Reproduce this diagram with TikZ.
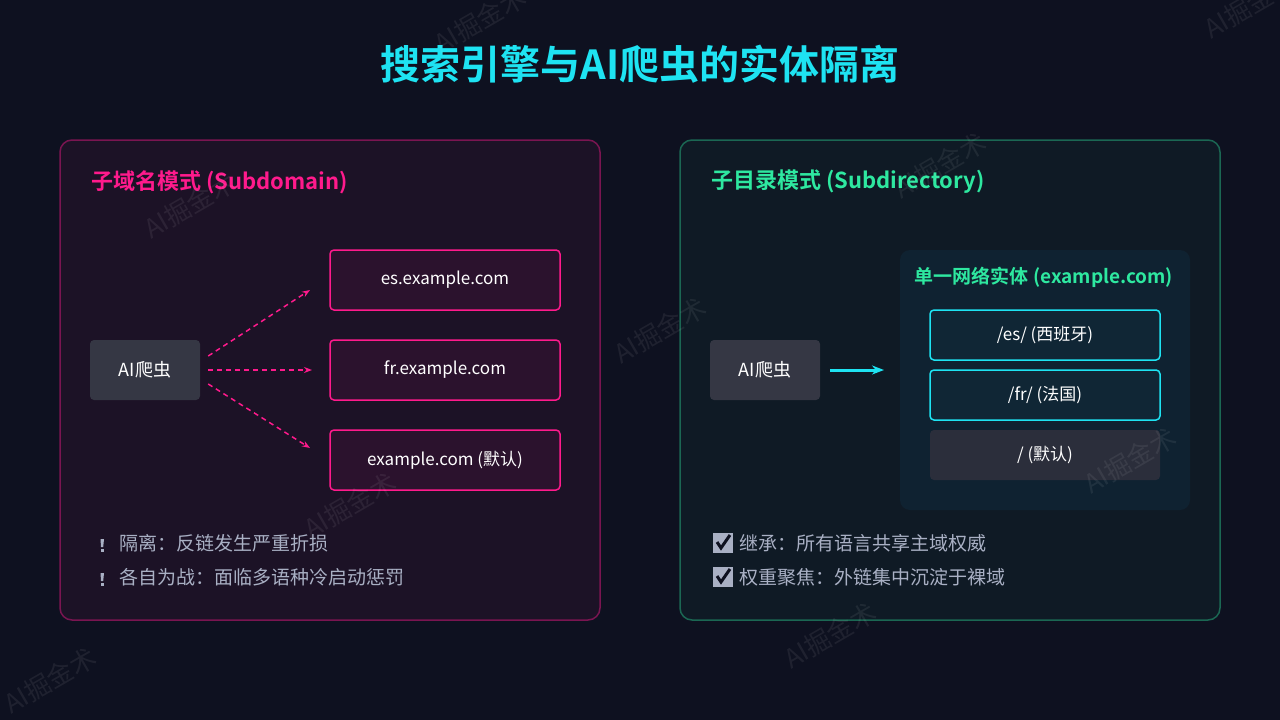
\documentclass[tikz,border=0pt]{standalone}
\usepackage{fontspec}
\setmainfont{Noto Sans CJK SC}
\newfontfamily\cjkb{Noto Sans CJK SC Bold}
\usetikzlibrary{arrows.meta}
\definecolor{bg}{HTML}{0E1120}
\definecolor{pinkc}{HTML}{FF1A8C}
\definecolor{greenc}{HTML}{2EE8A0}
\definecolor{cyanc}{HTML}{1EE3F2}
\definecolor{txt}{HTML}{A9B0C4}
\begin{document}
\begin{tikzpicture}[x=1pt,y=-1pt,
  box/.style={draw=pinkc,line width=1.5pt,rounded corners=4pt,fill=pinkc!12!bg,minimum width=230pt,minimum height=60pt,text=white,font=\fontsize{17}{20}\selectfont},
  rbox/.style={draw=cyanc,line width=1.5pt,rounded corners=4pt,fill=cyanc!10!bg,minimum width=230pt,minimum height=50pt,text=white,font=\fontsize{17}{20}\selectfont},
  crawler/.style={fill=white!16!bg,rounded corners=4pt,minimum width=110pt,minimum height=60pt,text=white,font=\fontsize{18}{20}\selectfont},
  item/.style={anchor=west,text=txt,font=\fontsize{19}{22}\selectfont},
  wm/.style={text=white,opacity=0.07,rotate=30,font=\fontsize{26}{28}\selectfont},
  warn/.pic={\fill[txt] (-1.5,-6) -- (2,-6) -- (1.2,2) -- (-1,2) -- cycle; \fill[txt] (-1,3.5) rectangle (1.5,6.5);},
  chk/.pic={\fill[txt] (-10,-10) rectangle (10,10); \draw[bg,line width=3pt] (-6,-1) -- (-2,5) -- (7,-8);},
  parr/.style={pinkc,line width=1.5pt,dashed,dash pattern=on 5pt off 4pt,-{Stealth[length=8pt]}}]
\fill[bg] (0,0) rectangle (1280,720);
\useasboundingbox (0,0) rectangle (1280,720);
\node[text=cyanc,font=\cjkb\fontsize{40}{44}\selectfont] (title) at (640,64) {搜索引擎与AI爬虫的实体隔离};
% left panel
\draw[draw=pinkc!45!bg,line width=1.5pt,fill=pinkc!6!bg,rounded corners=12pt] (60,140) rectangle (600,620);
\node[anchor=west,text=pinkc,font=\cjkb\fontsize{22}{26}\selectfont] (lt) at (88,182) {子域名模式 (Subdomain)};
\node[crawler] (c1) at (145,370) {AI爬虫};
\node[box] (es) at (445,280) {es.example.com};
\node[box] (fr) at (445,370) {fr.example.com};
\node[box] (df) at (445,460) {example.com (默认)};
\draw[parr] (c1.east) ++(8,-14) coordinate (s1) -- (310,290);
\draw[parr] (c1.east) ++(8,0) coordinate (s2) -- (312,370);
\draw[parr] (c1.east) ++(8,14) coordinate (s3) -- (310,448);
\pic at (102,545) {warn};
\pic at (102,579) {warn};
\node[item] (l1) at (116,543) {隔离：反链发生严重折损};
\node[item] (l2) at (116,577) {各自为战：面临多语种冷启动惩罚};
% right panel
\draw[draw=greenc!40!bg,line width=1.5pt,fill=greenc!4!bg,rounded corners=12pt] (680,140) rectangle (1220,620);
\node[anchor=west,text=greenc,font=\cjkb\fontsize{22}{26}\selectfont] (rt) at (708,182) {子目录模式 (Subdirectory)};
\fill[fill=cyanc!8!bg,rounded corners=10pt] (900,250) rectangle (1190,510);
\node[text=greenc,font=\cjkb\fontsize{19}{22}\selectfont] (ent) at (1044,277) {单一网络实体 (example.com)};
\node[crawler] (c2) at (765,370) {AI爬虫};
\node[rbox] (res) at (1045,335) {/es/ (西班牙)};
\node[rbox] (rfr) at (1045,395) {/fr/ (法国)};
\node[rbox,draw=none,fill=white!12!bg] (rdf) at (1045,455) {/ (默认)};
\coordinate (ae) at (884,370);
\draw[cyanc,line width=3pt,-{Stealth[length=12pt]}] (c2.east) ++(10,0) -- (ae);
\pic at (723,543) {chk};
\pic at (723,577) {chk};
\node[item] (r1) at (736,543) {继承：所有语言共享主域权威};
\node[item] (r2) at (736,577) {权重聚焦：外链集中沉淀于裸域};
% watermarks
\node[wm] (w1) at (190,205) {AI掘金术};
\node[wm] (w2) at (480,20) {AI掘金术};
\node[wm] (w3) at (940,165) {AI掘金术};
\node[wm] (w4) at (660,330) {AI掘金术};
\node[wm] (w5) at (350,505) {AI掘金术};
\node[wm] (w6) at (1130,460) {AI掘金术};
\node[wm] (w7) at (830,635) {AI掘金术};
\node[wm] (w8) at (50,680) {AI掘金术};
\node[wm] (w9) at (1250,5) {AI掘金术};
\end{tikzpicture}
\end{document}
